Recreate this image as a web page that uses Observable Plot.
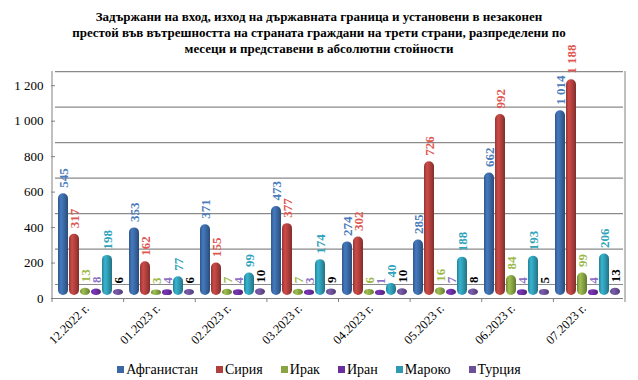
<!DOCTYPE html>
<html><head><meta charset="utf-8">
<script src="https://cdn.jsdelivr.net/npm/d3@7"></script>
<script src="https://cdn.jsdelivr.net/npm/@observablehq/plot@0.6"></script>
<style>
body{margin:0;background:#fff;width:638px;height:380px;overflow:hidden;font-family:"Liberation Serif","Times New Roman",serif;color:#000;}
#title{height:60px;box-sizing:border-box;padding-top:9px;text-align:center;font-weight:bold;font-size:13px;line-height:16px;font-family:"Liberation Serif",serif;}
#chart{height:300px;}
#legend{display:flex;justify-content:center;align-items:center;gap:18px;height:20px;font-size:14px;font-family:"Liberation Serif",serif;}
#legend span.sw{display:inline-block;width:7px;height:7px;margin-right:2px;vertical-align:middle;position:relative;top:-1px;}
</style></head><body>
<div id="title">Задържани на вход, изход на държавната граница и установени в незаконен<br>престой във вътрешността на страната граждани на трети страни, разпределени по<br>месеци и представени в абсолютни стойности</div>
<div id="chart"></div>
<div id="legend"></div>
<script>
const months = ["12.2022 г.", "01.2023 г.", "02.2023 г.", "03.2023 г.", "04.2023 г.", "05.2023 г.", "06.2023 г.", "07.2023 г."];
const series = ["Афганистан", "Сирия", "Ирак", "Иран", "Мароко", "Турция"];
const afghanistan = [545, 353, 371, 473, 274, 285, 662, 1014];
const syria = [317, 162, 155, 377, 302, 726, 992, 1188];
const iraq = [13, 3, 7, 7, 6, 16, 84, 99];
const iran = [8, 4, 4, 3, 1, 7, 4, 4];
const morocco = [198, 77, 99, 174, 40, 188, 193, 206];
const turkey = [6, 6, 10, 9, 10, 8, 5, 13];
const yTicks = [0, 200, 400, 600, 800, 1000, 1200];
const barColors = ["#3a68a4", "#b0403d", "#88a443", "#6a2e9e", "#2f9ab2", "#6a5096"];
const labelColors = ["#4a7cbb", "#e0564f", "#9cb94a", "#8e70c6", "#2fa3bc", "#000000"];

const values = [afghanistan, syria, iraq, iran, morocco, turkey];
const rows = [];
series.forEach((s, i) => months.forEach((m, j) => rows.push({series: s, month: m, value: values[i][j]})));

const loc = d3.formatLocale({decimal: ",", thousands: " ", grouping: [3], currency: ["", ""]});
const fmt = loc.format(",d");

const marks = [
  Plot.ruleY(yTicks, {dy: -14, stroke: "#8a8a8a", strokeWidth: 1.2}),
  Plot.ruleY([0], {stroke: "#808080"}),
  Plot.axisY(yTicks, {tickFormat: fmt, tickSize: 4, tickPadding: 8, fontSize: 13, label: null, stroke: "#808080"}),
  Plot.axisFx({anchor: "bottom", tickRotate: -45, tickSize: 0, tickPadding: 8, fontSize: 12.5, label: null, dx: -4})
];
series.forEach((s, i) => {
  const sub = rows.filter(d => d.series === s);
  marks.push(Plot.barY(sub, {fx: "month", x: "series", y: "value", fill: `url(#cyl${i})`, rx: 5, dy: -8, insetBottom: -5}));
  marks.push(Plot.text(sub, {fx: "month", x: "series", y: "value", text: d => fmt(d.value), rotate: -90, textAnchor: "start", dy: -14, fill: labelColors[i], fontWeight: "bold", fontSize: 13}));
});

const chart = Plot.plot({
  width: 638, height: 300,
  marginLeft: 52, marginRight: 13, marginTop: 11, marginBottom: 62,
  style: {fontFamily: "Liberation Serif, Times New Roman, serif", fontSize: "13px", color: "#000", overflow: "visible", background: "transparent"},
  fx: {domain: months, padding: 0, label: null, axis: null},
  x: {domain: series, paddingInner: 0.1, paddingOuter: 0.25, axis: null},
  y: {domain: [0, 1280], label: null},
  marks
});
document.getElementById("chart").appendChild(chart);

const svg = d3.select(chart);
const defs = svg.insert("defs", ":first-child");
barColors.forEach((c, i) => {
  const base = d3.color(c);
  const g = defs.append("linearGradient").attr("id", `cyl${i}`).attr("x1", "0").attr("x2", "1").attr("y1", "0").attr("y2", "0");
  g.append("stop").attr("offset", "0%").attr("stop-color", base.darker(0.5));
  g.append("stop").attr("offset", "30%").attr("stop-color", base.brighter(0.45));
  g.append("stop").attr("offset", "60%").attr("stop-color", base);
  g.append("stop").attr("offset", "100%").attr("stop-color", base.darker(0.9));
});

const fxs = chart.scale("fx");
const ys = chart.scale("y");
const yScale = d3.scaleLinear(ys.domain, ys.range);
const x0 = fxs.range[0], x1 = fxs.range[1];
const step = (x1 - x0) / months.length;
const deco = svg.append("g").attr("stroke", "#808080").attr("fill", "none");
const yTop = yScale(1280), yBot = yScale(0);
deco.append("line").attr("x1", x0).attr("x2", x0).attr("y1", yTop).attr("y2", yBot);
deco.append("line").attr("x1", x1).attr("x2", x1).attr("y1", yTop).attr("y2", yBot);
d3.range(months.length + 1).forEach(k => {
  const x = x0 + k * step;
  deco.append("line").attr("x1", x).attr("x2", x).attr("y1", yBot).attr("y2", yBot + 4);
});

const legend = d3.select("#legend");
series.forEach((s, i) => {
  const item = legend.append("span");
  item.append("span").attr("class", "sw").style("background", barColors[i]);
  item.append("span").text(s);
});
</script>
</body></html>
